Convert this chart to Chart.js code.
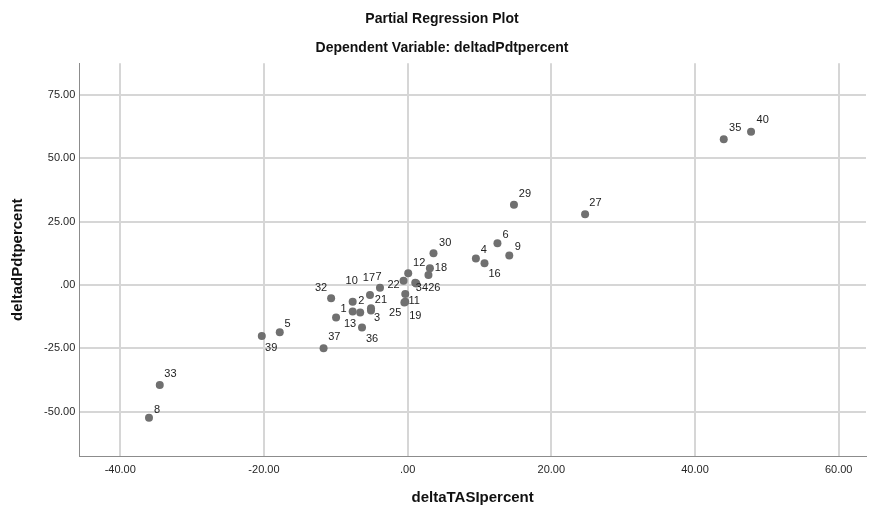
<!DOCTYPE html>
<html>
<head>
<meta charset="utf-8">
<script src="https://cdn.jsdelivr.net/npm/chart.js@4"></script>
<style>
  html, body { margin: 0; padding: 0; background: #fff; }
  #wrap { width: 870px; height: 512px; }
</style>
</head>
<body>
<div id="wrap"><canvas id="prp"></canvas></div>
<script>
// ── DATA ──────────────────────────────────────────────────────────────────────
const caseIds = ['1','2','3','4','5','6','7','8','9','10','11','12','13','16','17','18','19','21','22','25','26','27','29','30','32','33','34','35','36','37','39','40',''];
const xVals   = [-9.96,-6.6,-5.1,9.5,-17.8,12.5,-3.85,-36.0,14.15,-7.65,-0.33,0.08,-7.65,10.7,-5.24,3.1,-0.33,-5.1,-0.57,-0.45,1.2,24.7,14.8,3.6,-10.65,-34.5,1.06,44.0,-6.35,-11.7,-20.3,47.8,2.9];
const yVals   = [-12.8,-10.9,-10.1,10.5,-18.7,16.5,-1.05,-52.4,11.6,-6.6,-3.55,4.6,-10.5,8.6,-3.95,6.6,-6.6,-9.2,1.7,-6.9,0.6,27.9,31.7,12.5,-5.25,-39.5,0.9,57.5,-16.8,-25.0,-20.1,60.5,3.9];
const xTicks  = [-40, -20, 0, 20, 40, 60];
const yTicks  = [-50, -25, 0, 25, 50, 75];

// label placement (px from the dot), avoids overlaps like the original
const labelOffsets = {
  '1':[7.6,-8.3], '2':[1,-12], '3':[6,7.6], '4':[8,-8.3], '5':[7.7,-8], '6':[8,-8.3],
  '7':[-1.4,-11], '8':[8,-7.7], '9':[8.4,-9], '10':[-1,-21], '11':[9,7], '12':[11,-10.6],
  '13':[-2.6,12.3], '16':[10,11], '17':[-1,-17], '18':[11,0], '19':[10,14], '21':[10,-8.3],
  '22':[-10,4], '25':[-9.2,10.2], '26':[18,4.8], '27':[10.4,-11], '29':[11,-10.7], '30':[11.7,-10.6],
  '32':[-10,-10], '33':[10.7,-11], '34':[6.7,5.7], '35':[11.4,-11], '36':[10,11], '37':[10.7,-11],
  '39':[9.4,11.7], '40':[11.6,-11.7]
};

const FONT = "'Liberation Sans', Arial, sans-serif";
const fmtTick = v => v === 0 ? '.00' : v.toFixed(2);

// ── CASE LABELS ───────────────────────────────────────────────────────────────
const caseLabels = {
  id: 'caseLabels',
  afterDatasetsDraw(chart) {
    const ctx = chart.ctx;
    const meta = chart.getDatasetMeta(0);
    ctx.save();
    ctx.font = '11px ' + FONT;
    ctx.fillStyle = '#222';
    ctx.textAlign = 'center';
    ctx.textBaseline = 'middle';
    meta.data.forEach((pt, i) => {
      const id = caseIds[i];
      if (!id) return;
      const off = labelOffsets[id] || [9, -9];
      ctx.fillText(id, pt.x + off[0], pt.y + off[1]);
    });
    ctx.restore();
  }
};

// ── CHART ─────────────────────────────────────────────────────────────────────
new Chart(document.getElementById('prp'), {
  type: 'scatter',
  data: {
    datasets: [{
      data: xVals.map((x, i) => ({ x, y: yVals[i] })),
      backgroundColor: '#707070',
      borderWidth: 0,
      pointRadius: 4,
      pointHoverRadius: 4
    }]
  },
  options: {
    responsive: true,
    maintainAspectRatio: false,
    animation: false,
    layout: { padding: { left: 16, right: 2, top: 0, bottom: 0 } },
    plugins: {
      legend: { display: false },
      tooltip: { enabled: false },
      title: {
        display: true, text: 'Partial Regression Plot', color: '#111',
        font: { family: FONT, size: 14, weight: 'bold' },
        padding: { top: 11, bottom: 10 }
      },
      subtitle: {
        display: true, text: 'Dependent Variable: deltadPdtpercent', color: '#111',
        font: { family: FONT, size: 14, weight: 'bold' },
        padding: { top: 1.8, bottom: 6.9 }
      }
    },
    scales: {
      x: {
        type: 'linear', min: -45.7, max: 63.8,
        afterBuildTicks: s => { s.ticks = xTicks.map(v => ({ value: v })); },
        afterFit: s => { s.height = 56; },
        grid: { color: '#d6d6d6', lineWidth: 2, drawTicks: false },
        border: { display: true, color: '#8c8c8c', width: 1 },
        ticks: { callback: fmtTick, color: '#262626', padding: 7, maxRotation: 0,
                 font: { family: FONT, size: 11 } },
        title: { display: true, text: 'deltaTASIpercent', color: '#111',
                 font: { family: FONT, size: 15, weight: 'bold' }, padding: { top: 0, bottom: 5 } }
      },
      y: {
        type: 'linear', min: -67.5, max: 87.5,
        afterBuildTicks: s => { s.ticks = yTicks.map(v => ({ value: v })); },
        afterFit: s => { s.width = 63.3; },
        grid: { color: '#d6d6d6', lineWidth: 2, drawTicks: false },
        border: { display: true, color: '#8c8c8c', width: 1 },
        ticks: { callback: fmtTick, color: '#262626', padding: 4,
                 font: { family: FONT, size: 11 } },
        title: { display: true, text: 'deltadPdtpercent', color: '#111',
                 font: { family: FONT, size: 15, weight: 'bold' }, padding: { top: -7, bottom: 0 } }
      }
    }
  },
  plugins: [caseLabels]
});
</script>
</body>
</html>
